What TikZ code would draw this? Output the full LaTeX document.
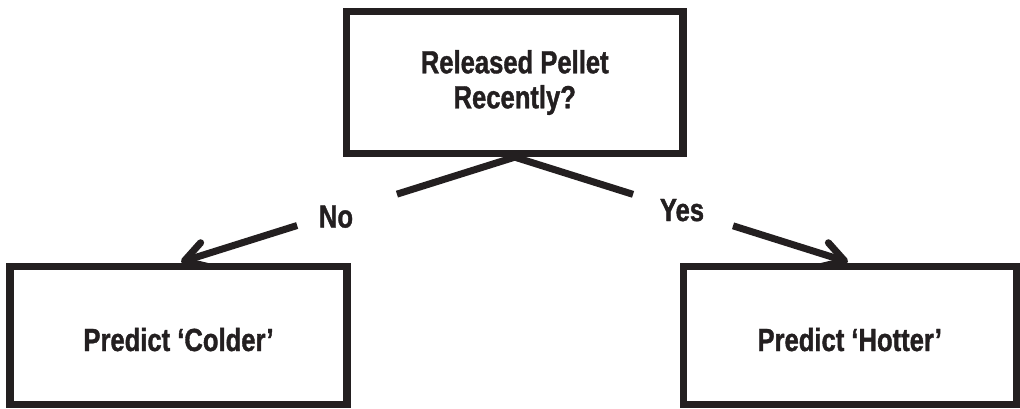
\documentclass[tikz,border=0pt]{standalone}
\usepackage{fontspec}
\setmainfont{Liberation Sans}[FakeStretch=0.8,BoldFeatures={FakeBold=1.2}]
\usetikzlibrary{arrows.meta,calc}
\definecolor{ink}{HTML}{231F20}
\begin{document}
\begin{tikzpicture}[x=1pt,y=-1pt,
  box/.style={draw=ink,line width=7.3pt,rectangle,inner sep=0pt,text=ink,
    font=\bfseries\fontsize{32}{35}\selectfont,align=center},
  leafbox/.style={box,minimum height=138pt,text height=31pt,text depth=0pt},
  conn/.style={draw=ink,line width=7pt},
  tipped/.style={conn,-{Straight Barb[length=21pt,width=25pt,round]}},
  lbl/.style={text=ink,font=\bfseries\fontsize{32}{35}\selectfont,inner sep=0pt,text depth=0pt}]
\useasboundingbox (0,0) rectangle (1020,409);
\node[box,minimum width=336.5pt,minimum height=142pt] (q) at (514.75,82.5) {Released Pellet\\Recently?};
\node[leafbox,minimum width=337pt] (cold) at (178.5,335.5) {Predict ‘Colder’};
\node[leafbox,minimum width=333pt] (hot) at (849.75,335.5) {Predict ‘Hotter’};
\node[lbl] (no) at (336,216.5) {No};
\node[lbl] (yes) at (682,210) {Yes};
\coordinate (tl) at (181,262);
\coordinate (tr) at (848,262);
\coordinate (noA) at ($(q.south)!0.353!(tl)$);
\coordinate (noB) at ($(q.south)!0.652!(tl)$);
\coordinate (yesA) at ($(q.south)!0.355!(tr)$);
\coordinate (yesB) at ($(q.south)!0.655!(tr)$);
\draw[conn] (q.south) -- (noA);
\draw[tipped] (noB) -- (tl);
\draw[conn] (q.south) -- (yesA);
\draw[tipped] (yesB) -- (tr);
\end{tikzpicture}
\end{document}
